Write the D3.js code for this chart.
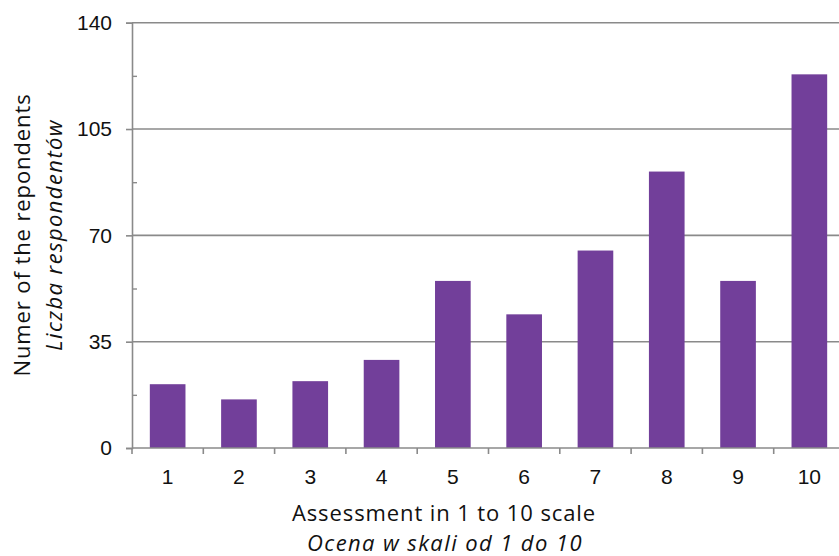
<!DOCTYPE html>
<html><head><meta charset="utf-8">
<script src="https://cdn.jsdelivr.net/npm/d3@7"></script>
<style>body{margin:0;background:#fff}svg{display:block}</style>
</head><body>
<svg id="c" width="839" height="556"></svg>
<script>
const categories = ["1","2","3","4","5","6","7","8","9","10"];
const values = [21, 16, 22, 29, 55, 44, 65, 91, 55, 123];
const yTicks = [0, 35, 70, 105, 140];
const yMinorTicks = [17.5, 52.5, 87.5, 122.5];
const xTitle = ["Assessment in 1 to 10 scale", "Ocena w skali od 1 do 10"];
const yTitle = ["Numer of the repondents", "Liczba respondentów"];

const svg = d3.select("#c");
const L = 132, R = 845, T = 22.7, B = 448;
const x = d3.scaleBand().domain(categories).range([L, R]).paddingInner(0.5).paddingOuter(0.25);
const y = d3.scaleLinear().domain([0, 140]).range([B, T]);
const grid = "#8a8a8a";
const tickFont = "Liberation Sans, Arial, sans-serif";

// gridlines
svg.append("g").selectAll("line").data(yTicks.filter(d => d > 0)).join("line")
  .attr("x1", L).attr("x2", R).attr("y1", d => y(d)).attr("y2", d => y(d))
  .attr("stroke", grid).attr("stroke-width", 1.6);

// bars
svg.append("g").selectAll("rect").data(values).join("rect")
  .attr("x", (d, i) => x(categories[i])).attr("width", x.bandwidth())
  .attr("y", d => y(d)).attr("height", d => B - y(d))
  .attr("fill", "#723f9a");

// y axis
const yAxis = svg.append("g").attr("transform", `translate(${L},0)`)
  .call(d3.axisLeft(y).tickValues(yTicks).tickSize(6).tickPadding(14));
yAxis.select(".domain").attr("stroke", grid).attr("stroke-width", 1.6);
yAxis.selectAll(".tick line").attr("stroke", grid).attr("stroke-width", 1.6);
yAxis.selectAll(".tick text").attr("font-family", tickFont)
  .attr("font-size", 21).attr("fill", "#111");
svg.append("g").attr("transform", `translate(${L},0)`)
  .call(d3.axisRight(y).tickValues(yMinorTicks).tickSize(5).tickFormat(""))
  .call(g => { g.select(".domain").remove(); g.selectAll("line").attr("stroke", grid).attr("stroke-width", 1.4); });

// x axis
const xBoundaries = d3.range(categories.length + 1).map(i => L + i * (R - L) / categories.length);
const xAxis = svg.append("g").attr("transform", `translate(0,${B})`)
  .call(d3.axisBottom(x).tickSize(0).tickPadding(21));
xAxis.select(".domain").attr("d", `M${L},0H${R}`).attr("stroke", grid).attr("stroke-width", 1.6);
xAxis.selectAll(".tick text").attr("font-family", tickFont)
  .attr("font-size", 21).attr("fill", "#111");
xAxis.append("g").selectAll("line").data(xBoundaries).join("line")
  .attr("x1", d => d).attr("x2", d => d).attr("y1", 0).attr("y2", 6)
  .attr("stroke", grid).attr("stroke-width", 1.6);

// titles
const tf = "Open Sans, Noto Sans, sans-serif";
svg.append("text").attr("x", 444).attr("y", 521).attr("text-anchor", "middle")
  .attr("font-family", tf).attr("font-size", 22).attr("letter-spacing", 0.9).attr("fill", "#111").text(xTitle[0]);
svg.append("text").attr("x", 445).attr("y", 551).attr("text-anchor", "middle")
  .attr("font-family", tf).attr("font-size", 22).attr("letter-spacing", 1.4).attr("font-style", "italic").attr("fill", "#111").text(xTitle[1]);
svg.append("text").attr("transform", "translate(30,235) rotate(-90)").attr("text-anchor", "middle")
  .attr("font-family", tf).attr("font-size", 22).attr("letter-spacing", 0.9).attr("fill", "#111").text(yTitle[0]);
svg.append("text").attr("transform", "translate(62,235) rotate(-90)").attr("text-anchor", "middle")
  .attr("font-family", tf).attr("font-size", 22).attr("letter-spacing", 1.4).attr("font-style", "italic").attr("fill", "#111").text(yTitle[1]);
</script>
</body></html>
